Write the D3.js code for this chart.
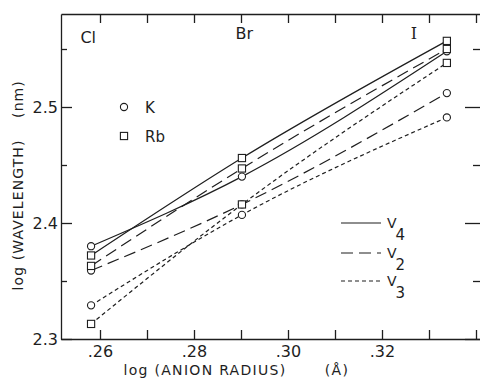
<!DOCTYPE html>
<html>
<head>
<meta charset="utf-8">
<script src="https://cdn.jsdelivr.net/npm/d3@7"></script>
<style>
    body { margin: 0; background: #fff; }
    text { font-family: "DejaVu Sans", sans-serif; fill: #1e1e1e; }
</style>
</head>
<body>
<svg id="my-svg"></svg>
<script>
// ---------- data ----------
const anions = ["Cl", "Br", "I"];
const logRadius = [0.2581, 0.2902, 0.3338];
const anionLabelPos = [0.2575, 0.2907, 0.3268];

const kV4 = [2.380, 2.440, 2.548];
const rbV4 = [2.372, 2.456, 2.557];
const kV2 = [2.359, 2.416, 2.512];
const rbV2 = [2.363, 2.447, 2.550];
const kV3 = [2.329, 2.407, 2.491];
const rbV3 = [2.313, 2.416, 2.538];

const xTicks = [0.26, 0.27, 0.28, 0.29, 0.30, 0.31, 0.32, 0.33, 0.34];
const xLabels = [0.26, 0.28, 0.30, 0.32];
const yTicks = [2.30, 2.35, 2.40, 2.45, 2.50, 2.55];
const yLabels = [2.3, 2.4, 2.5];

const modes = ["V4", "V2", "V3"];
const modeDash = { V4: null, V2: "12,6", V3: "4,3" };

const series = [
    { cation: "K", mode: "V4", values: kV4 },
    { cation: "Rb", mode: "V4", values: rbV4 },
    { cation: "K", mode: "V2", values: kV2 },
    { cation: "Rb", mode: "V2", values: rbV2 },
    { cation: "K", mode: "V3", values: kV3 },
    { cation: "Rb", mode: "V3", values: rbV3 }
];

// ---------- layout ----------
const width = 480;
const height = 379;
const plotLeft = 61, plotRight = 485, plotTop = 14, plotBottom = 339;
const ink = "#1e1e1e";

const svg = d3.select("#my-svg")
    .attr("width", width)
    .attr("height", height)
    .style("display", "block");

const x = d3.scaleLinear()
    .domain([0.26 - 39 / 4700, 0.26 + 385 / 4700])
    .range([plotLeft, plotRight]);

const y = d3.scaleLinear()
    .domain([2.3, 2.3 + 325 / 1160])
    .range([plotBottom, plotTop]);

const isLabelX = d => xLabels.some(v => Math.abs(v - d) < 1e-6);
const isLabelY = d => yLabels.some(v => Math.abs(v - d) < 1e-6);
const fmtX = d => isLabelX(d) ? d3.format(".2f")(d).replace(/^0/, "") : "";
const fmtY = d => isLabelY(d) ? d3.format(".1f")(d) : "";

// bottom axis
svg.append("g")
    .attr("transform", `translate(0,${plotBottom})`)
    .call(d3.axisBottom(x).tickValues(xTicks).tickSizeInner(-9).tickSizeOuter(0).tickPadding(7).tickFormat(fmtX))
    .call(g => g.selectAll("text").style("font-size", "16px").attr("fill", ink));

// top axis
svg.append("g")
    .attr("transform", `translate(0,${plotTop})`)
    .call(d3.axisTop(x).tickValues(xTicks).tickSizeInner(-9).tickSizeOuter(0).tickFormat(""));

// left axis
svg.append("g")
    .attr("transform", `translate(${plotLeft},0)`)
    .call(d3.axisLeft(y).tickValues(yTicks).tickSizeInner(-6).tickSizeOuter(0).tickPadding(3).tickFormat(fmtY))
    .call(g => g.selectAll(".tick line").attr("x2", d => isLabelY(d) ? 11 : 6))
    .call(g => g.selectAll("text").style("font-size", "16px").attr("fill", ink));

// right axis (sits just past the cropped edge)
svg.append("g")
    .attr("transform", `translate(${plotRight},0)`)
    .call(d3.axisRight(y).tickValues(yTicks).tickSizeInner(-10).tickSizeOuter(0).tickFormat(""))
    .call(g => g.selectAll(".tick line").attr("x2", d => isLabelY(d) ? -20 : -12));

svg.selectAll(".domain, .tick line")
    .attr("stroke", ink)
    .attr("stroke-width", 1.3);

// axis titles
svg.append("text")
    .attr("x", 205).attr("y", 375)
    .attr("text-anchor", "middle")
    .style("font-size", "14px")
    .style("letter-spacing", "1.3px")
    .text("log  (ANION RADIUS)");

svg.append("text")
    .attr("x", 337).attr("y", 375)
    .attr("text-anchor", "middle")
    .style("font-size", "14px")
    .style("letter-spacing", "1.3px")
    .text("(Å)");

svg.append("text")
    .attr("transform", "translate(23,215) rotate(-90)")
    .attr("text-anchor", "middle")
    .style("font-size", "14px")
    .style("letter-spacing", "1.1px")
    .text("log  (WAVELENGTH)");

svg.append("text")
    .attr("transform", "translate(23,99) rotate(-90)")
    .attr("text-anchor", "middle")
    .style("font-size", "14px")
    .style("letter-spacing", "1.1px")
    .text("(nm)");

// anion labels
svg.selectAll(".anion")
    .data(anions)
    .enter().append("text")
    .attr("class", "anion")
    .attr("x", (d, i) => x(anionLabelPos[i]))
    .attr("y", (d, i) => i === 0 ? 43 : 39)
    .attr("text-anchor", "middle")
    .style("font-size", "16px")
    .style("font-family", d => d === "I" ? "'DejaVu Serif', serif" : null)
    .text(d => d);

// lines
const line = d3.line()
    .x((d, i) => x(logRadius[i]))
    .y(d => y(d))
    .curve(d3.curveMonotoneX);

svg.append("g")
    .selectAll("path")
    .data(series)
    .enter().append("path")
    .attr("d", d => line(d.values))
    .attr("fill", "none")
    .attr("stroke", ink)
    .attr("stroke-width", 1.2)
    .attr("stroke-dasharray", d => modeDash[d.mode]);

// markers
function drawMarker(g, cation, cx, cy) {
    if (cation === "K") {
        g.append("circle")
            .attr("cx", cx).attr("cy", cy).attr("r", 3.6)
            .attr("fill", "#fff").attr("stroke", ink).attr("stroke-width", 1.1);
    } else {
        g.append("rect")
            .attr("x", cx - 3.6).attr("y", cy - 3.6)
            .attr("width", 7.2).attr("height", 7.2)
            .attr("fill", "#fff").attr("stroke", ink).attr("stroke-width", 1.1);
    }
}

const markers = svg.append("g");
series.forEach(s => {
    s.values.forEach((v, i) => drawMarker(markers, s.cation, x(logRadius[i]), y(v)));
});

// cation legend
const cationLegend = [{ cation: "K", cy: 107 }, { cation: "Rb", cy: 136 }];
cationLegend.forEach(d => {
    drawMarker(svg, d.cation, 124, d.cy);
    svg.append("text")
        .attr("x", 145).attr("y", d.cy + 6)
        .style("font-size", "15px")
        .text(d.cation);
});

// mode legend
const modeLegendY = [223, 253, 281];
modes.forEach((m, i) => {
    const ly = modeLegendY[i];
    svg.append("line")
        .attr("x1", 341).attr("x2", 381)
        .attr("y1", ly).attr("y2", ly)
        .attr("stroke", ink)
        .attr("stroke-width", 1.2)
        .attr("stroke-dasharray", modeDash[m]);
    const t = svg.append("text")
        .attr("x", 387).attr("y", ly + 5)
        .style("font-size", "14px");
    t.append("tspan").text("V");
    t.append("tspan")
        .attr("dx", -1).attr("dy", 12)
        .style("font-size", "15px")
        .text(m.slice(1));
});
</script>
</body>
</html>
